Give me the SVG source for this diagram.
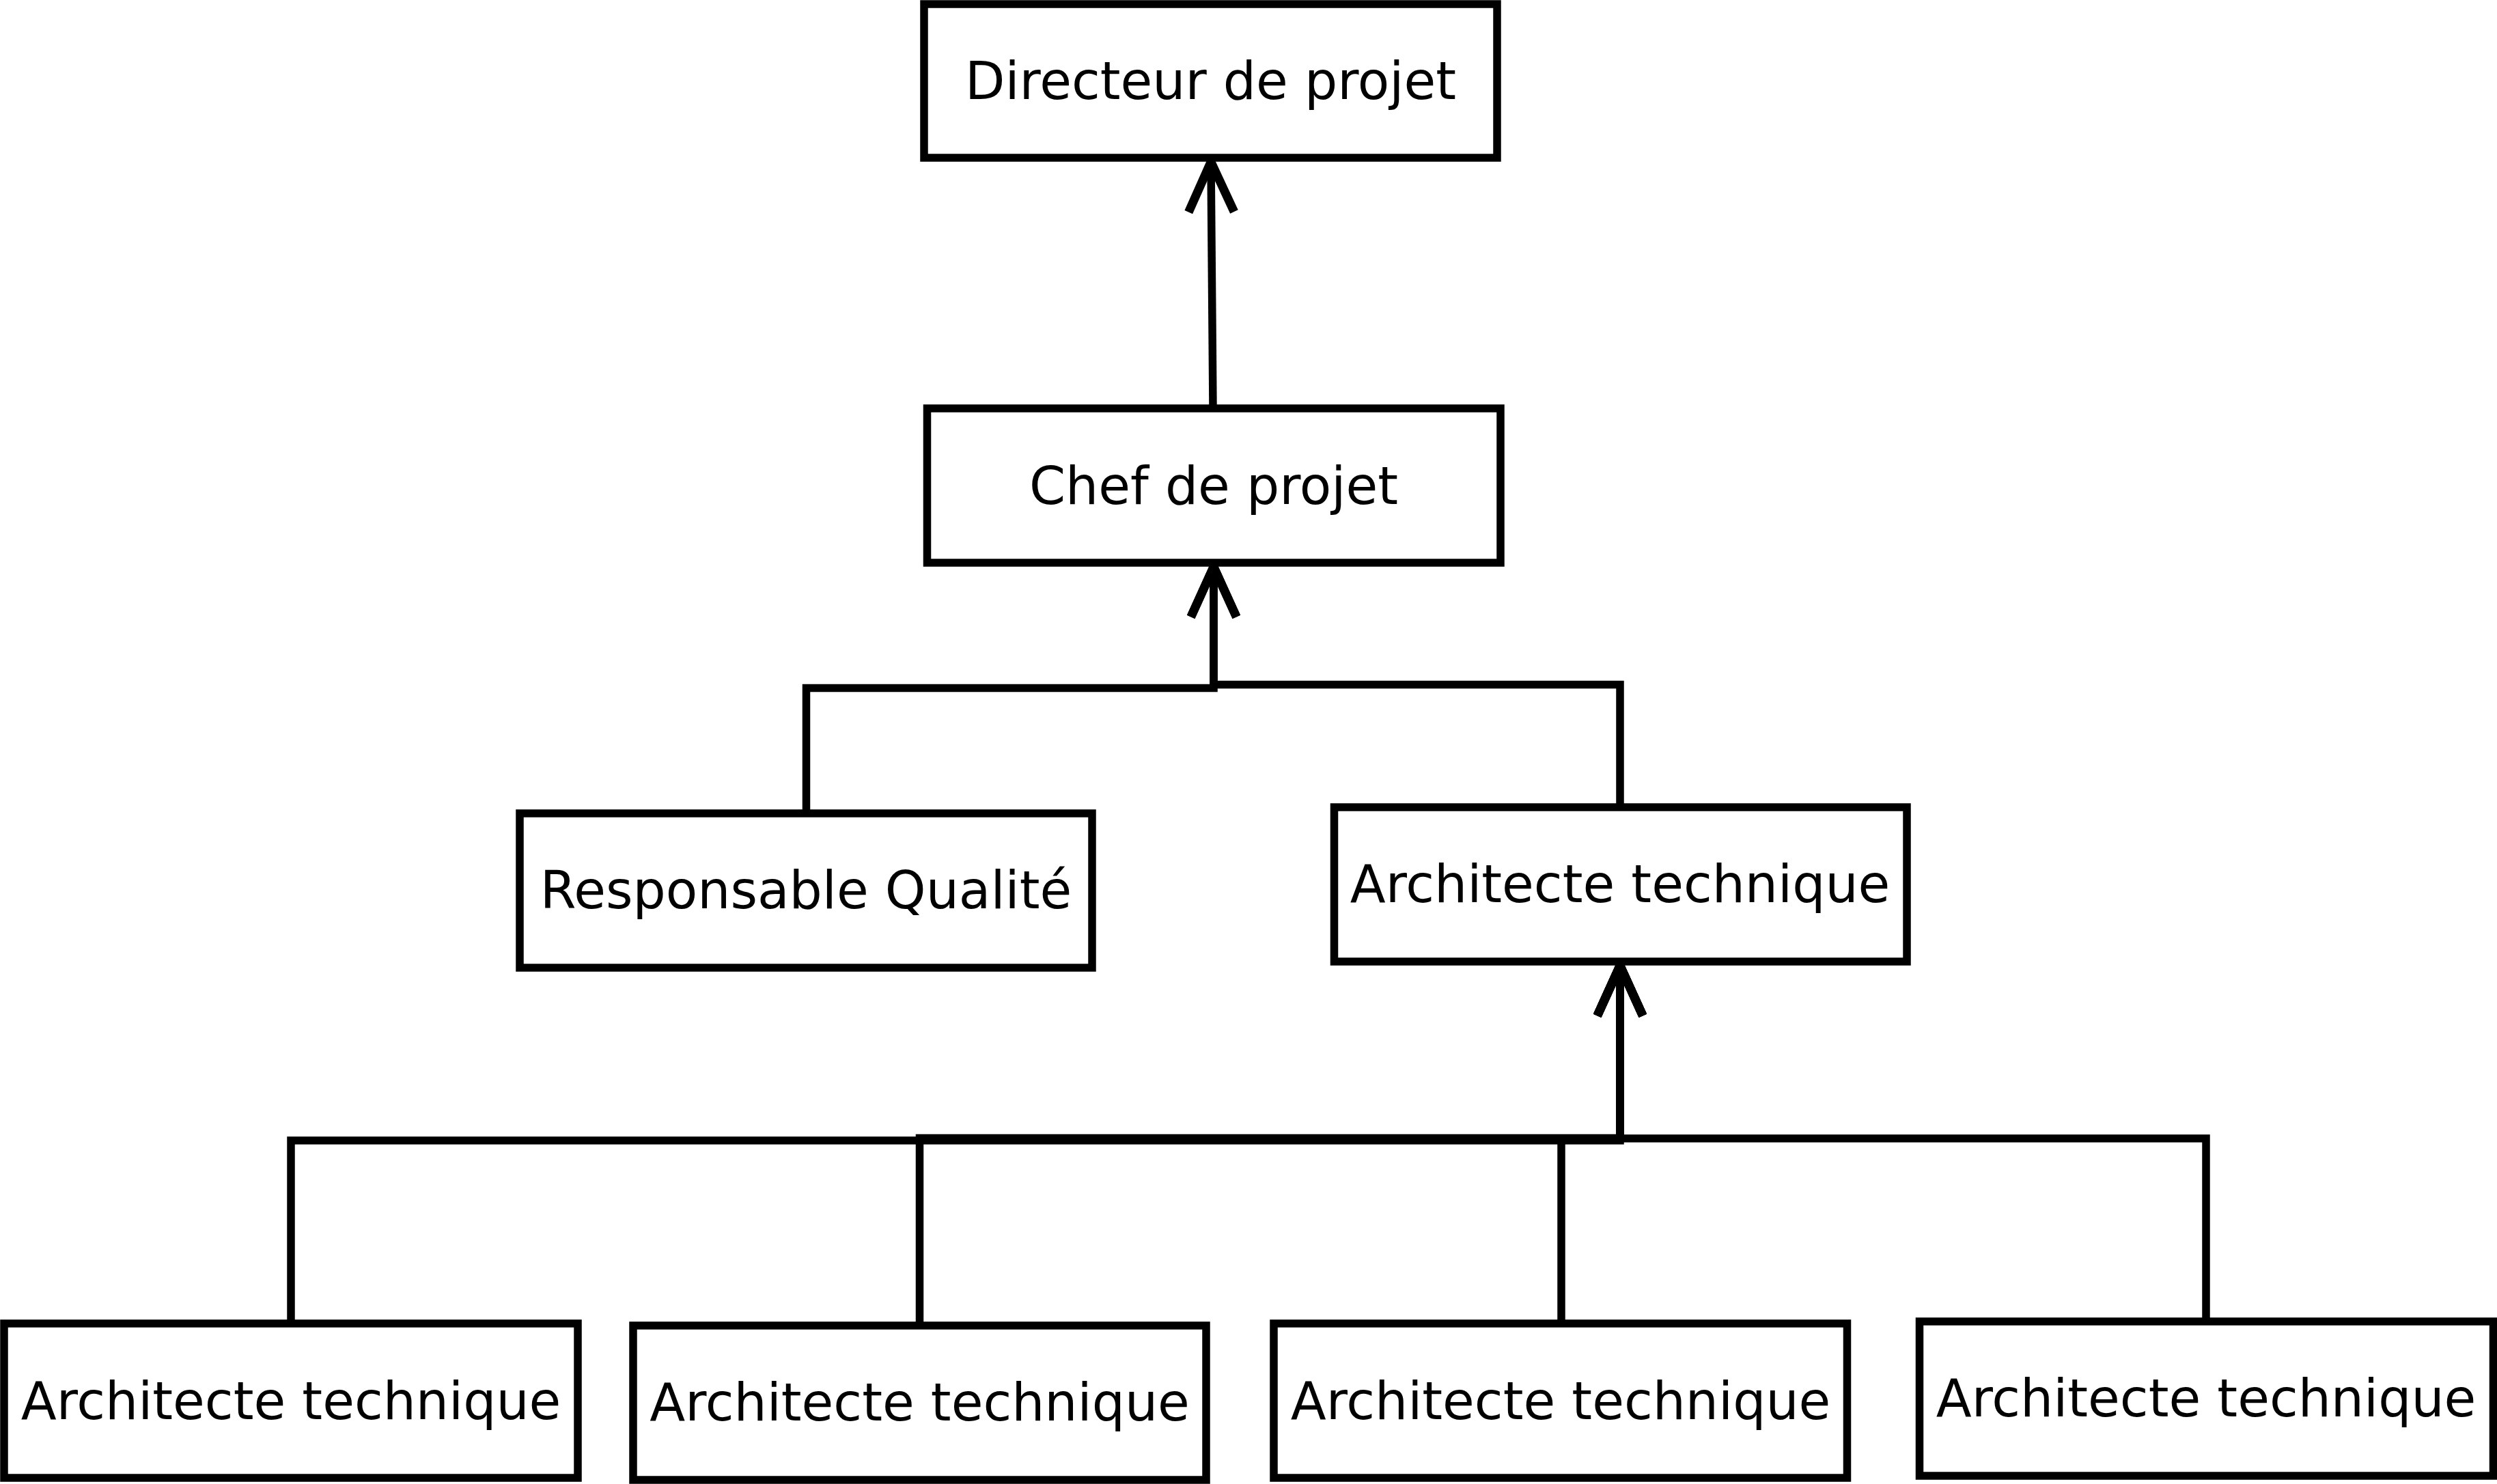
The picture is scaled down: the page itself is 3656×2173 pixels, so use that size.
<svg xmlns="http://www.w3.org/2000/svg" width="3656" height="2173" viewBox="0 0 3656 2173">
<style>
.box{fill:#fff;stroke:#000;stroke-width:11.5}
.lbl{font-family:"DejaVu Sans",sans-serif;font-size:76px;fill:#000;text-anchor:middle}
.con{fill:none;stroke:#000;stroke-width:11.5;stroke-linejoin:miter}
</style>
<defs>
<marker id="open" markerUnits="userSpaceOnUse" markerWidth="100" markerHeight="100" viewBox="-80 -45 90 90" refX="0" refY="0" orient="auto" overflow="visible">
<path d="M -66 -30 L 0 0 L -66 30" fill="none" stroke="#000" stroke-width="11.5" stroke-linejoin="miter"/>
</marker>
</defs>
<rect width="3656" height="2173" fill="#fff"/>
<g id="connectors">
<path class="con" d="M 1776 598 L 1773 237" marker-end="url(#open)"/>
<path class="con" d="M 1180.5 1191 L 1180.5 1007.5 L 1777 1007.5 L 1777 830" marker-end="url(#open)"/>
<path class="con" d="M 2372 1182 L 2372 1002.5 L 1777 1002.5 L 1777 830" marker-end="url(#open)"/>
<path class="con" d="M 426 1938 L 426 1670 L 2372 1670 L 2372 1414" marker-end="url(#open)"/>
<path class="con" d="M 1346.5 1941 L 1346.5 1666.5 L 2372 1666.5 L 2372 1414" marker-end="url(#open)"/>
<path class="con" d="M 2286 1938 L 2286 1667 L 2372 1667 L 2372 1414" marker-end="url(#open)"/>
<path class="con" d="M 3230 1935 L 3230 1667 L 2372 1667 L 2372 1414" marker-end="url(#open)"/>
</g>
<g id="directeur"><rect class="box" x="1353" y="6" width="839" height="225"/><text class="lbl" x="1772.5" y="145">Directeur de projet</text></g>
<g id="chef"><rect class="box" x="1357.5" y="598" width="839.5" height="226"/><text class="lbl" x="1777" y="738">Chef de projet</text></g>
<g id="responsable"><rect class="box" x="761" y="1191" width="838" height="226"/><text class="lbl" x="1180" y="1330">Responsable Qualité</text></g>
<g id="architecte"><rect class="box" x="1953.5" y="1182" width="838.5" height="226"/><text class="lbl" x="2372" y="1321">Architecte technique</text></g>
<g id="architecte1"><rect class="box" x="6" y="1938" width="840" height="226"/><text class="lbl" x="426" y="2078">Architecte technique</text></g>
<g id="architecte2"><rect class="box" x="927" y="1941" width="839" height="226"/><text class="lbl" x="1346.5" y="2080">Architecte technique</text></g>
<g id="architecte3"><rect class="box" x="1865" y="1938" width="839.5" height="226"/><text class="lbl" x="2285" y="2078">Architecte technique</text></g>
<g id="architecte4"><rect class="box" x="2810.5" y="1935" width="840" height="226"/><text class="lbl" x="3230" y="2074">Architecte technique</text></g>
</svg>
